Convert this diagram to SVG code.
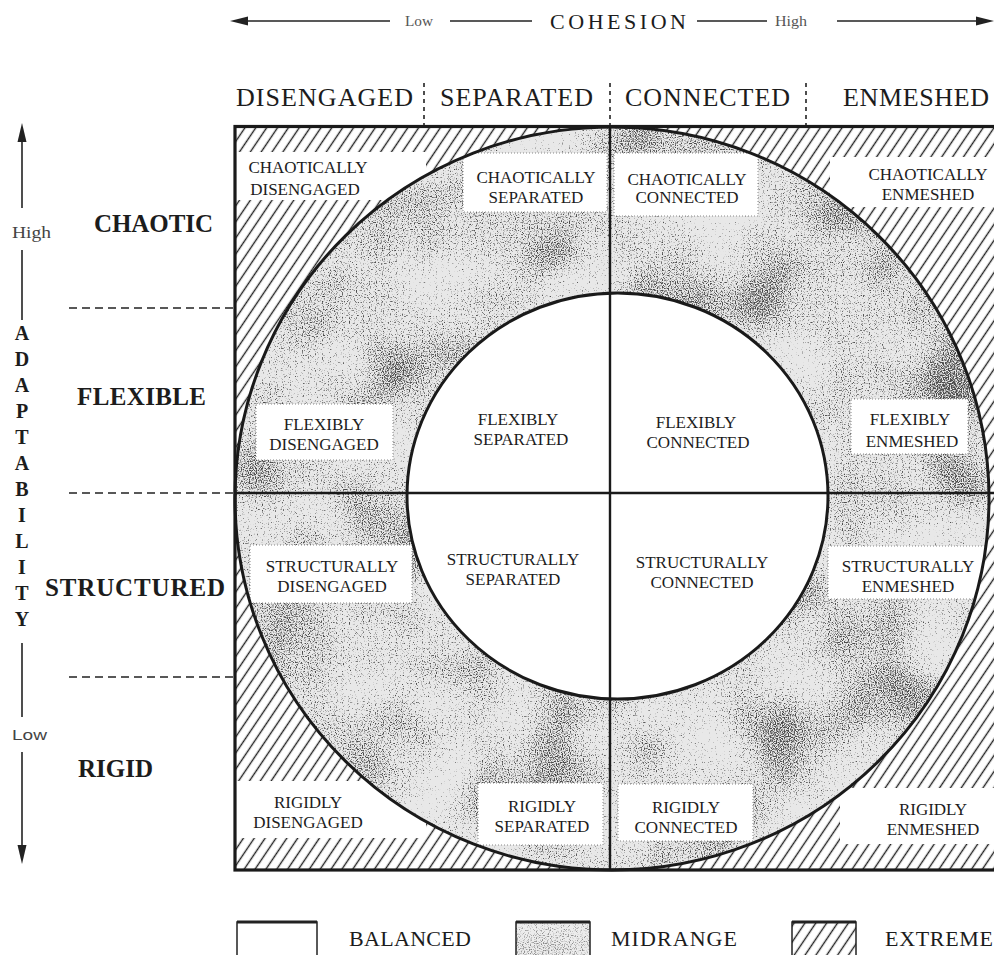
<svg xmlns="http://www.w3.org/2000/svg" width="994" height="955" viewBox="0 0 994 955">
<defs>
<style>
.ax{stroke:#222;stroke-width:1.6;fill:none}
.dash{stroke:#222;stroke-width:1.6;stroke-dasharray:8 5;fill:none}
.vd{stroke:#222;stroke-width:1.6;stroke-dasharray:4 4;fill:none}
.head{fill:#222}
.t{font-family:"Liberation Serif","Times New Roman",serif;fill:#1c1c1c}
.hdr{font-size:26px}
.row{font-size:25px;font-weight:bold}
.adapt{font-size:20px;font-weight:bold;text-anchor:middle}
.cell{font-size:17px;text-anchor:middle}
.small{font-size:14px;fill:#555}
.leg{font-size:22px}
.box{fill:#fff;stroke:#888;stroke-width:1;stroke-dasharray:1 2}
.band{fill:#fff}
.rule{stroke:#1a1a1a;stroke-width:3;fill:none}
.thin{stroke:#1a1a1a;stroke-width:2.4;fill:none}
</style>
<pattern id="hatch" patternUnits="userSpaceOnUse" width="9" height="20" patternTransform="rotate(34)">
<rect width="9" height="20" fill="#fff"/>
<line x1="4.5" y1="0" x2="4.5" y2="20" stroke="#222" stroke-width="1.4"/>
</pattern>
<!-- fine speckle modulated by a slow cloud for the printed stipple -->
<filter id="grain" x="0" y="0" width="1" height="1" color-interpolation-filters="sRGB">
<feTurbulence type="fractalNoise" baseFrequency="0.85" numOctaves="1" seed="4" result="f"/>
<feColorMatrix in="f" type="matrix" values="1 0 0 0 0  1 0 0 0 0  1 0 0 0 0  0 0 0 0 1" result="fg"/>
<feTurbulence type="fractalNoise" baseFrequency="0.012" numOctaves="2" seed="11" result="c"/>
<feColorMatrix in="c" type="matrix" values="1 0 0 0 0  1 0 0 0 0  1 0 0 0 0  0 0 0 0 1" result="cg"/>
<feComposite in="fg" in2="cg" operator="arithmetic" k2="1" k3="0.45" k4="-0.22" result="m"/>
<feColorMatrix in="m" type="matrix" values="0 0 0 0 0.3  0 0 0 0 0.3  0 0 0 0 0.3  5 0 0 0 -2.75"/>
</filter>
<clipPath id="ring">
<path clip-rule="evenodd" d="M235,498.5 a377,371.5 0 1,0 754,0 a377,371.5 0 1,0 -754,0 Z M407,496 a210.5,203 0 1,0 421,0 a210.5,203 0 1,0 -421,0 Z"/>
</clipPath>
<clipPath id="corners">
<path clip-rule="evenodd" d="M235,126.5 H1000 V870 H235 Z M235,498.5 a377,371.5 0 1,0 754,0 a377,371.5 0 1,0 -754,0 Z"/>
</clipPath>
<clipPath id="legMid"><rect x="516" y="922" width="74" height="40"/></clipPath>
</defs>

<rect width="994" height="955" fill="#fff"/>

<!-- extreme zone: hatched corners outside the outer circle -->
<g id="extreme-zone" clip-path="url(#corners)">
<rect x="235" y="126" width="765" height="745" fill="url(#hatch)"/>
<rect class="band" x="236" y="152" width="190" height="48"/>
<rect class="band" x="830" y="157" width="170" height="50"/>
<rect class="band" x="236" y="781" width="190" height="57"/>
<rect class="band" x="840" y="788" width="160" height="56"/>
</g>

<!-- midrange zone: stippled ring between the circles -->
<g id="midrange-zone" clip-path="url(#ring)">
<rect x="235" y="126" width="760" height="745" fill="#e8e8e8"/>
<rect x="235" y="126" width="760" height="745" fill="#000" filter="url(#grain)"/>
<rect class="box" x="463" y="153" width="144" height="59"/>
<rect class="box" x="614" y="153" width="144" height="63"/>
<rect class="box" x="256" y="404" width="137" height="56"/>
<rect class="box" x="851" y="399" width="117" height="55"/>
<rect class="box" x="250" y="545" width="162" height="58"/>
<rect class="box" x="828" y="546" width="160" height="53"/>
<rect class="box" x="478" y="783" width="125" height="62"/>
<rect class="box" x="618" y="784" width="135" height="57"/>
</g>

<!-- frame, circles and quadrant rules -->
<g id="grid">
<ellipse class="rule" cx="612" cy="498.5" rx="377" ry="371.5"/>
<ellipse class="rule" cx="617.5" cy="496" rx="210.5" ry="203"/>
<line class="thin" x1="235" y1="493" x2="1000" y2="493"/>
<line class="thin" x1="610" y1="126" x2="610" y2="870"/>
<rect x="235" y="126.5" width="770" height="743.5" fill="none" stroke="#1a1a1a" stroke-width="3.2"/>
</g>

<!-- axes and dividers -->
<g id="connectors">
<line class="ax" x1="244" y1="21" x2="390" y2="21"/>
<line class="ax" x1="450" y1="21" x2="532" y2="21"/>
<line class="ax" x1="697" y1="21" x2="767" y2="21"/>
<line class="ax" x1="837" y1="21" x2="980" y2="21"/>
<path class="head" d="M230,21 L248,16.5 L248,25.5 Z"/>
<path class="head" d="M994,21 L976,16.5 L976,25.5 Z"/>
<line class="ax" x1="22" y1="138" x2="22" y2="208"/>
<line class="ax" x1="22" y1="250" x2="22" y2="320"/>
<line class="ax" x1="22" y1="643" x2="22" y2="717"/>
<line class="ax" x1="22" y1="752" x2="22" y2="850"/>
<path class="head" d="M22,123 L17.5,142 L26.5,142 Z"/>
<path class="head" d="M22,864 L17.5,845 L26.5,845 Z"/>
<line class="vd" x1="424" y1="83" x2="424" y2="125"/>
<line class="vd" x1="610" y1="83" x2="610" y2="125"/>
<line class="vd" x1="806" y1="83" x2="806" y2="125"/>
<line class="dash" x1="69" y1="308" x2="234" y2="308"/>
<line class="dash" x1="69" y1="493" x2="234" y2="493"/>
<line class="dash" x1="69" y1="677" x2="234" y2="677"/>
</g>

<!-- cohesion axis -->
<g id="cohesion-axis" class="t">
<text class="small" x="405" y="26" textLength="28" lengthAdjust="spacingAndGlyphs">Low</text>
<text x="550" y="29" font-size="22" textLength="136" lengthAdjust="spacing">COHESION</text>
<text class="small" x="775" y="26" textLength="32" lengthAdjust="spacingAndGlyphs">High</text>
</g>

<!-- column headings -->
<g id="col-disengaged" class="t hdr"><text x="236" y="106" textLength="177" lengthAdjust="spacing">DISENGAGED</text></g>
<g id="col-separated" class="t hdr"><text x="440" y="106" textLength="153" lengthAdjust="spacing">SEPARATED</text></g>
<g id="col-connected" class="t hdr"><text x="625" y="106" textLength="165" lengthAdjust="spacing">CONNECTED</text></g>
<g id="col-enmeshed" class="t hdr"><text x="843" y="106" textLength="146" lengthAdjust="spacing">ENMESHED</text></g>

<!-- adaptability axis -->
<g id="adaptability-axis" class="t">
<text x="12" y="238" font-size="16" fill="#444" textLength="39" lengthAdjust="spacingAndGlyphs">High</text>
<text x="12" y="740" font-size="15" fill="#444" font-family="Liberation Sans, Arial, sans-serif" textLength="35" lengthAdjust="spacingAndGlyphs">Low</text>
<g class="adapt">
<text x="22" y="340">A</text>
<text x="22" y="366">D</text>
<text x="22" y="392">A</text>
<text x="22" y="418">P</text>
<text x="22" y="444">T</text>
<text x="22" y="470">A</text>
<text x="22" y="496">B</text>
<text x="22" y="522">I</text>
<text x="22" y="548">L</text>
<text x="22" y="574">I</text>
<text x="22" y="600">T</text>
<text x="22" y="626">Y</text>
</g>
</g>

<!-- row headings -->
<g id="row-chaotic" class="t row"><text x="94" y="232" textLength="119" lengthAdjust="spacing">CHAOTIC</text></g>
<g id="row-flexible" class="t row"><text x="77" y="405" textLength="129" lengthAdjust="spacing">FLEXIBLE</text></g>
<g id="row-structured" class="t row"><text x="45" y="596" textLength="180" lengthAdjust="spacing">STRUCTURED</text></g>
<g id="row-rigid" class="t row"><text x="78" y="777" textLength="75" lengthAdjust="spacing">RIGID</text></g>

<!-- cells -->
<g id="chaotically-disengaged" class="t cell"><text x="308" y="173">CHAOTICALLY</text><text x="305" y="195">DISENGAGED</text></g>
<g id="chaotically-separated" class="t cell"><text x="536" y="183">CHAOTICALLY</text><text x="536" y="203">SEPARATED</text></g>
<g id="chaotically-connected" class="t cell"><text x="687" y="185">CHAOTICALLY</text><text x="687" y="203">CONNECTED</text></g>
<g id="chaotically-enmeshed" class="t cell"><text x="928" y="180">CHAOTICALLY</text><text x="928" y="200">ENMESHED</text></g>

<g id="flexibly-disengaged" class="t cell"><text x="324" y="430">FLEXIBLY</text><text x="324" y="450">DISENGAGED</text></g>
<g id="flexibly-separated" class="t cell"><text x="518" y="425">FLEXIBLY</text><text x="521" y="445">SEPARATED</text></g>
<g id="flexibly-connected" class="t cell"><text x="696" y="428">FLEXIBLY</text><text x="698" y="448">CONNECTED</text></g>
<g id="flexibly-enmeshed" class="t cell"><text x="910" y="425">FLEXIBLY</text><text x="912" y="447">ENMESHED</text></g>

<g id="structurally-disengaged" class="t cell"><text x="332" y="572">STRUCTURALLY</text><text x="332" y="592">DISENGAGED</text></g>
<g id="structurally-separated" class="t cell"><text x="513" y="565">STRUCTURALLY</text><text x="513" y="585">SEPARATED</text></g>
<g id="structurally-connected" class="t cell"><text x="702" y="568">STRUCTURALLY</text><text x="702" y="588">CONNECTED</text></g>
<g id="structurally-enmeshed" class="t cell"><text x="908" y="572">STRUCTURALLY</text><text x="908" y="592">ENMESHED</text></g>

<g id="rigidly-disengaged" class="t cell"><text x="308" y="808">RIGIDLY</text><text x="308" y="828">DISENGAGED</text></g>
<g id="rigidly-separated" class="t cell"><text x="542" y="812">RIGIDLY</text><text x="542" y="832">SEPARATED</text></g>
<g id="rigidly-connected" class="t cell"><text x="686" y="813">RIGIDLY</text><text x="686" y="833">CONNECTED</text></g>
<g id="rigidly-enmeshed" class="t cell"><text x="933" y="815">RIGIDLY</text><text x="933" y="835">ENMESHED</text></g>

<!-- legend -->
<g id="legend-balanced">
<rect x="237" y="922" width="80" height="40" fill="#fff" stroke="#222" stroke-width="1.5"/>
<line x1="237" y1="922" x2="317" y2="922" stroke="#222" stroke-width="3"/>
<text class="t leg" x="349" y="946" textLength="122" lengthAdjust="spacing">BALANCED</text>
</g>
<g id="legend-midrange">
<g clip-path="url(#legMid)">
<rect x="516" y="922" width="74" height="40" fill="#ececec"/>
<rect x="516" y="922" width="74" height="40" fill="#000" filter="url(#grain)" opacity="0.6"/>
</g>
<rect x="516" y="922" width="74" height="40" fill="none" stroke="#222" stroke-width="1.5"/>
<line x1="516" y1="922" x2="590" y2="922" stroke="#222" stroke-width="3"/>
<text class="t leg" x="611" y="946" textLength="126" lengthAdjust="spacing">MIDRANGE</text>
</g>
<g id="legend-extreme">
<rect x="792" y="922" width="64" height="40" fill="url(#hatch)" stroke="#222" stroke-width="1.5"/>
<line x1="792" y1="922" x2="856" y2="922" stroke="#222" stroke-width="3"/>
<text class="t leg" x="885" y="946" textLength="108" lengthAdjust="spacing">EXTREME</text>
</g>
</svg>
